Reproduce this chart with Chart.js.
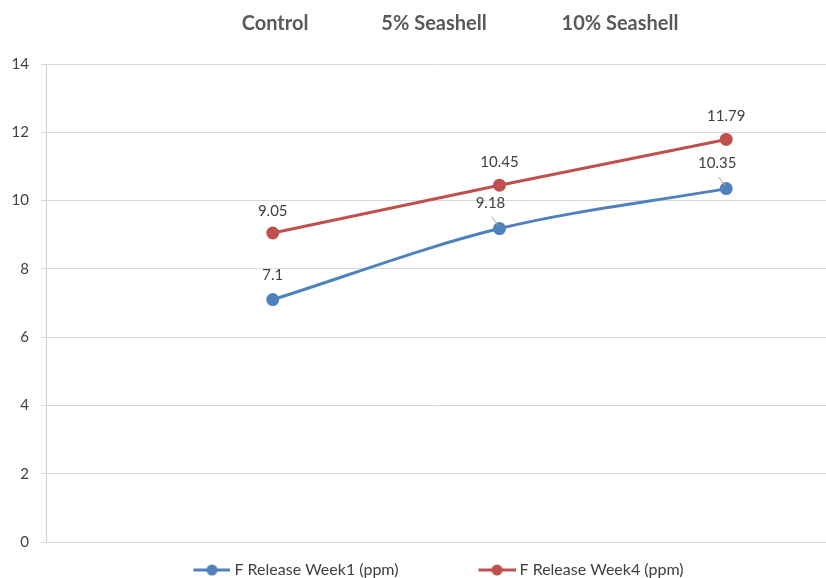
<!DOCTYPE html>
<html>
<head>
<meta charset="utf-8">
<script src="https://cdn.jsdelivr.net/npm/chart.js@4.4.1/dist/chart.umd.min.js"></script>
<style>
  html, body { margin: 0; padding: 0; background: #fff; overflow: hidden; }
  #wrap { width: 826px; height: 578px; overflow: hidden; }
  #fChart { display: block; margin-left: -9px; }
</style>
</head>
<body>
<div id="wrap"><canvas id="fChart" width="835" height="600"></canvas></div>
<script>
const categories = ['Control', '5% Seashell', '10% Seashell'];
const week1 = [7.1, 9.18, 10.35];
const week4 = [9.05, 10.45, 11.79];
const seriesNames = ['F Release Week1 (ppm)', 'F Release Week4 (ppm)'];
const yTicks = [0, 2, 4, 6, 8, 10, 12, 14];

const blue = '#4F81BD';
const red = '#C0504D';
const shift = 9; // canvas sits 9px left of the window edge

Chart.defaults.font.family = 'Lato';

// legend icon: line with a dot, padded on the left to space the items
function legendIcon(color) {
  const c = document.createElement('canvas');
  c.width = 101;
  c.height = 14;
  const g = c.getContext('2d');
  g.strokeStyle = color;
  g.lineWidth = 3;
  g.beginPath();
  g.moveTo(64, 7);
  g.lineTo(101, 7);
  g.stroke();
  g.fillStyle = color;
  g.beginPath();
  g.arc(82.5, 7, 5.5, 0, Math.PI * 2);
  g.fill();
  return c;
}
const legendIcons = [legendIcon(blue), legendIcon(red)];

// [dx, dy, leader line] for each value label
const labelOffsets = [
  [[0, -24, false], [-9, -25, true], [-9, -25, true]],
  [[0, -22, false], [0, -23, false], [0, -23, false]]
];

const dataLabels = {
  id: 'dataLabels',
  afterDatasetsDraw(chart) {
    const ctx = chart.ctx;
    ctx.save();
    ctx.font = '15px Lato';
    ctx.fillStyle = '#404040';
    ctx.textAlign = 'center';
    ctx.textBaseline = 'middle';
    chart.data.datasets.forEach((ds, di) => {
      chart.getDatasetMeta(di).data.forEach((pt, i) => {
        const [dx, dy, leader] = labelOffsets[di][i];
        if (leader) {
          ctx.strokeStyle = '#A6A6A6';
          ctx.lineWidth = 1;
          ctx.beginPath();
          ctx.moveTo(pt.x + dx + 1, pt.y + dy + 13);
          ctx.lineTo(pt.x - 1, pt.y - 3);
          ctx.stroke();
        }
        ctx.fillText(String(ds.data[i].y), pt.x + dx, pt.y + dy);
      });
    });
    ctx.restore();
  }
};

// category names shown across the top
const headerCenters = [275, 434, 620];
const header = {
  id: 'header',
  afterDraw(chart) {
    const ctx = chart.ctx;
    ctx.save();
    ctx.font = 'bold 20px Lato';
    ctx.fillStyle = '#595959';
    ctx.textAlign = 'center';
    ctx.textBaseline = 'middle';
    categories.forEach((c, i) => ctx.fillText(c, headerCenters[i] + shift, 24));
    ctx.restore();
  }
};

new Chart(document.getElementById('fChart'), {
  type: 'line',
  data: {
    datasets: [
      {
        label: seriesNames[0],
        data: categories.map((c, i) => ({ x: i + 1, y: week1[i] })),
        borderColor: blue,
        backgroundColor: blue,
        pointBackgroundColor: blue,
        pointBorderColor: blue,
        borderWidth: 3,
        pointRadius: 5,
        tension: 0.33
      },
      {
        label: seriesNames[1],
        data: categories.map((c, i) => ({ x: i + 1, y: week4[i] })),
        borderColor: red,
        backgroundColor: red,
        pointBackgroundColor: red,
        pointBorderColor: red,
        borderWidth: 3,
        pointRadius: 5,
        tension: 0
      }
    ]
  },
  options: {
    responsive: false,
    animation: false,
    layout: { autoPadding: false, padding: { top: 64, bottom: 12, left: 0, right: 0 } },
    scales: {
      x: { type: 'linear', display: false, min: 0, max: 3.44 },
      y: {
        min: 0,
        max: 14,
        afterBuildTicks: s => { s.ticks = yTicks.map(v => ({ value: v })); },
        afterFit: s => { s.width = 46 + shift; },
        ticks: { padding: 12, color: '#404040', font: { size: 15 } },
        grid: { color: '#D9D9D9', tickLength: 5 },
        border: { color: '#D0D0D0' }
      }
    },
    plugins: {
      tooltip: { enabled: false },
      legend: {
        position: 'bottom',
        labels: {
          usePointStyle: true,
          pointStyleWidth: 93,
          padding: 20,
          color: '#404040',
          font: { size: 16 },
          generateLabels(chart) {
            const items = Chart.defaults.plugins.legend.labels.generateLabels(chart);
            items.forEach((it, i) => { it.pointStyle = legendIcons[i]; });
            return items;
          }
        }
      }
    }
  },
  plugins: [dataLabels, header]
});
</script>
</body>
</html>
